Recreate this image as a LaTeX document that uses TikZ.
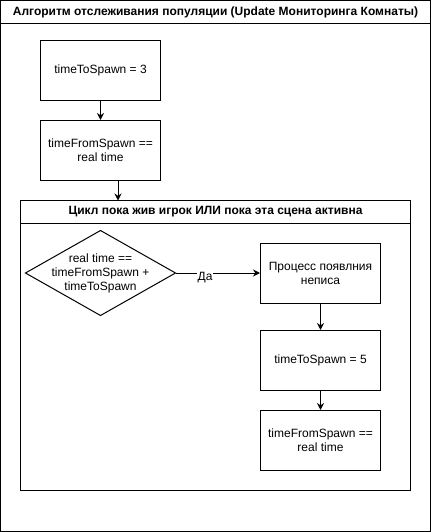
\documentclass[tikz,border=0pt]{standalone}
\usepackage{fontspec}
\setmainfont{Liberation Sans}
\usetikzlibrary{shapes.geometric,arrows.meta}
\begin{document}
\begin{tikzpicture}[x=1pt,y=-1pt,
  every node/.style={font=\fontsize{12}{14}\selectfont},
  box/.style={draw,line width=1pt,minimum width=120pt,minimum height=60pt,align=center,inner sep=0pt},
  frame/.style={draw,line width=1pt},
  arr/.style={line width=1pt,-{Stealth[length=7pt,width=7pt]}},
  ttl/.style={font=\fontsize{12}{14}\selectfont\bfseries}]
\useasboundingbox (0,0) rectangle (431,532);
% outer frame
\draw[frame] (0.5,0.5) rectangle (430.5,531.5);
\draw[frame] (0.5,23.5) -- (430.5,23.5);
\node[ttl] (t1) at (215.5,12) {Алгоритм отслеживания популяции (Update Мониторинга Комнаты)};
% inner frame
\draw[frame] (20.5,200.5) rectangle (410.5,490.5);
\draw[frame] (20.5,223.5) -- (410.5,223.5);
\coordinate (ltop) at (118,200.5);
\node[ttl] (t2) at (215.5,212) {Цикл пока жив игрок ИЛИ пока эта сцена активна};
% nodes
\node[box] (b1) at (100.5,70.5) {timeToSpawn = 3};
\node[box] (b2) at (100.5,150.5) {timeFromSpawn ==\\real time};
\coordinate (dw) at (25.5,273);
\coordinate (dn) at (100.5,230.5);
\coordinate (de) at (175.5,273);
\coordinate (ds) at (100.5,315.5);
\draw[frame] (dw) -- (dn) -- (de) -- (ds) -- cycle;
\node[align=center] (d) at (100.5,273) {real time ==\\timeFromSpawn +\\timeToSpawn};
\node[box] (b3) at (320.5,273) {Процесс появлния\\неписа};
\node[box] (b4) at (320.5,360.5) {timeToSpawn = 5};
\node[box] (b5) at (320.5,440.5) {timeFromSpawn ==\\real time};
% connectors
\draw[arr] (b1) -- (b2);
\draw[arr] (b2.south -| ltop) -- (ltop);
\draw[arr] (de) -- node[pos=0.35,yshift=-5pt,fill=white,inner sep=1pt]{Да} (b3.west);
\draw[arr] (b3) -- (b4);
\draw[arr] (b4) -- (b5);
\end{tikzpicture}
\end{document}
